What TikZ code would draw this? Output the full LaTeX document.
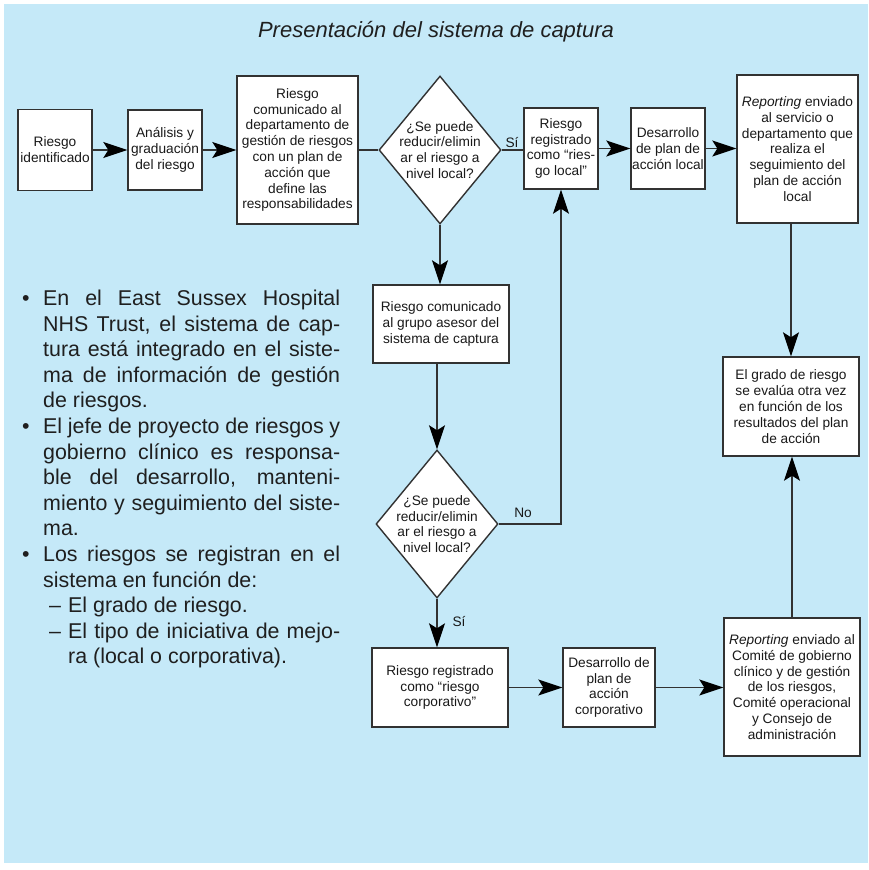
\documentclass[tikz,border=0pt]{standalone}
\usepackage{fontspec}
\setmainfont{Liberation Sans}
\usetikzlibrary{shapes.geometric,arrows.meta}
\definecolor{panel}{RGB}{197,233,248}
\definecolor{ink}{RGB}{50,50,50}
\newcommand\bxfont{\fontsize{13.7}{15.8}\selectfont}
\newcommand\txfont{\fontsize{21.4}{25.6}\selectfont}
\newcommand\jline[1]{\makebox[297pt][s]{#1}}
\newcommand\jsub[1]{\makebox[272pt][s]{#1}}

\begin{document}
\begin{tikzpicture}[x=1pt,y=-1pt,
  box/.style={draw=ink,line width=1.4pt,fill=white,align=center,
    inner sep=0pt,font=\bxfont,text=black!90},
  decision/.style={draw=ink,line width=1.4pt,fill=white,shape=diamond,
    inner sep=0pt,minimum width=122pt,minimum height=148pt},
  link/.style={draw=ink,line width=1.4pt},
  flow/.style={link,-{Stealth[length=24pt,width=16pt,inset=5pt,color=black]}},
  lbl/.style={font=\bxfont,inner sep=0pt,text=black!90},
  txt/.style={font=\txfont,inner sep=0pt,anchor=base west,text=black!88},
]
% page and panel
\useasboundingbox (0,0) rectangle (868,870);
\fill[white] (0,0) rectangle (868,870);
\fill[panel] (4,4) rectangle (868,863);

\node[font=\fontsize{22}{26}\selectfont\itshape,text=black!88] (title) at (436,32)
  {Presentación del sistema de captura};

% top row
\node[box,minimum width=74pt,minimum height=81pt] (b1) at (55,150)
  {Riesgo\\identificado};
\node[box,minimum width=74pt,minimum height=80pt] (b2) at (165,150)
  {Análisis y\\graduación\\del riesgo};
\node[box,minimum width=121pt,minimum height=148pt] (b3) at (297.5,150)
  {Riesgo\\comunicado al\\departamento de\\gestión de riesgos\\con un plan de\\acción que\\define las\\responsabilidades};
\node[decision] (d1) at (440,150) {};
\node[lbl,align=center] (d1t) at (440,150)
  {¿Se puede\\reducir/elimin\\ar el riesgo a\\nivel local?};
\node[box,minimum width=74pt,minimum height=81pt] (b4) at (561,148.5)
  {Riesgo\\registrado\\como “ries-\\go local”};
\node[box,minimum width=74pt,minimum height=81pt] (b5) at (668,148.5)
  {Desarrollo\\de plan de\\acción local};
\node[box,minimum width=121pt,minimum height=148pt] (b6) at (797.5,149)
  {\textit{Reporting} enviado\\al servicio o\\departamento que\\realiza el\\seguimiento del\\plan de acción\\local};

% middle column
\node[box,minimum width=136pt,minimum height=78pt] (b7) at (441,324)
  {Riesgo comunicado\\al grupo asesor del\\sistema de captura};
\node[decision] (d2) at (437,524) {};
\node[lbl,align=center] (d2t) at (437,524)
  {¿Se puede\\reducir/elimin\\ar el riesgo a\\nivel local?};

% right column
\node[box,minimum width=136pt,minimum height=99pt] (b11) at (791,406.5)
  {El grado de riesgo\\se evalúa otra vez\\en función de los\\resultados del plan\\de acción};

% bottom row
\node[box,minimum width=136pt,minimum height=79pt] (b8) at (440,687.5)
  {Riesgo registrado\\como “riesgo\\corporativo”};
\node[box,minimum width=92pt,minimum height=79pt] (b9) at (609,687.5)
  {Desarrollo de\\plan de\\acción\\corporativo};
\node[box,minimum width=136pt,minimum height=138pt] (b10) at (792,687)
  {\textit{Reporting} enviado al\\Comité de gobierno\\clínico y de gestión\\de los riesgos,\\Comité operacional\\y Consejo de\\administración};

% connectors
\draw[flow] (b1.east) -- (b2.west);
\draw[flow] (b2.east) -- (b3.west);
\draw[link] (b3.east) -- (d1.west);
\draw[link] (d1.east) -- (b4.west |- d1.east);
\draw[flow] (b4.east) -- (b5.west);
\draw[flow] (b5.east) -- (b6.west |- b5.east);
\draw[flow] (b11.north |- b6.south) -- (b11.north);
\draw[flow] (d1.south) -- (d1.south |- b7.north);
\draw[flow] (b7.south -| d2.north) -- (d2.north);
\draw[flow] (d2.east) -| (b4.south);
\draw[flow] (d2.south) -- (d2.south |- b8.north);
\draw[flow] (b8.east |- b9.west) -- (b9.west);
\draw[flow] (b9.east) -- (b9.east -| b10.west);
\draw[flow] (b10.north) -- (b10.north |- b11.south);

\node[lbl] (si1) at (512,143) {Sí};
\node[lbl] (no2) at (523,513) {No};
\node[lbl] (si2) at (459,622) {Sí};

% notes on the left
\node[txt] (p1) at (22,305.5) {•};
\node[txt] (l0) at (43,305.5) {\jline{En el East Sussex Hospital}};
\node[txt] (l1) at (43,331.1) {\jline{NHS Trust, el sistema de cap-}};
\node[txt] (l2) at (43,356.7) {\jline{tura está integrado en el siste-}};
\node[txt] (l3) at (43,382.3) {\jline{ma de información de gestión}};
\node[txt] (l4) at (43,407.9) {de riesgos.};
\node[txt] (p2) at (22,433.5) {•};
\node[txt] (l5) at (43,433.5) {\jline{El jefe de proyecto de riesgos y}};
\node[txt] (l6) at (43,459.1) {\jline{gobierno clínico es responsa-}};
\node[txt] (l7) at (43,484.7) {\jline{ble del desarrollo, manteni-}};
\node[txt] (l8) at (43,510.3) {\jline{miento y seguimiento del siste-}};
\node[txt] (l9) at (43,535.9) {ma.};
\node[txt] (p3) at (22,561.5) {•};
\node[txt] (l10) at (43,561.5) {\jline{Los riesgos se registran en el}};
\node[txt] (l11) at (43,587.1) {sistema en función de:};
\node[txt] (s1) at (49,612.7) {–};
\node[txt] (l12) at (68,612.7) {El grado de riesgo.};
\node[txt] (s2) at (49,638.3) {–};
\node[txt] (l13) at (68,638.3) {\jsub{El tipo de iniciativa de mejo-}};
\node[txt] (l14) at (68,663.9) {ra (local o corporativa).};
\end{tikzpicture}
\end{document}
